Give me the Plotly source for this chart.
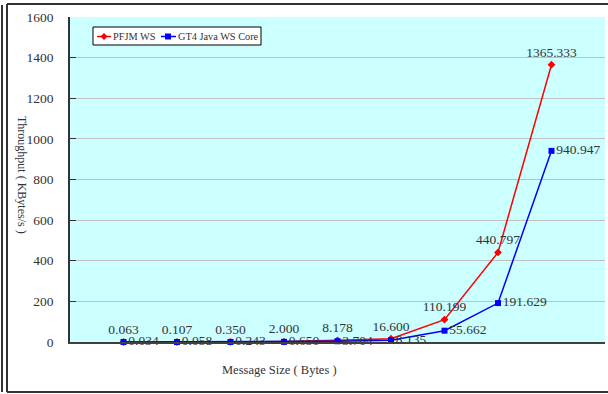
import plotly.graph_objects as go

# Message size steps (positions along the unlabeled x axis)
steps = [1, 2, 3, 4, 5, 6, 7, 8, 9]

# Throughput in KBytes/s
pfjm_ws = [0.063, 0.107, 0.350, 2.000, 8.178, 16.600, 110.199, 440.797, 1365.333]
gt4_core = [0.034, 0.058, 0.243, 0.650, 3.704, 8.135, 55.662, 191.629, 940.947]

series_names = ["PFJM WS", "GT4 Java WS Core"]
series_colors = ["#ff0000", "#0000ff"]

y_ticks = [0, 200, 400, 600, 800, 1000, 1200, 1400, 1600]

SERIF = "Liberation Serif, Times New Roman, serif"
TEXT = "#333333"

W, H = 608, 394
L, R, T, B = 70, 3, 17, 52
pw, ph = W - L - R, H - T - B


def px(x):
    return (x - L) / pw


def py(y):
    return (H - B - y) / ph


fig = go.Figure()

fig.add_trace(go.Scatter(
    x=steps, y=pfjm_ws, name=series_names[0], mode="lines+markers+text",
    line=dict(color=series_colors[0], width=1.5),
    marker=dict(symbol="diamond", size=6, color=series_colors[0]),
    text=[f"{v:.3f}" for v in pfjm_ws], textposition="top center",
    textfont=dict(family=SERIF, size=13.5, color=TEXT),
    cliponaxis=False,
))
fig.add_trace(go.Scatter(
    x=steps, y=gt4_core, name=series_names[1], mode="lines+markers+text",
    line=dict(color=series_colors[1], width=1.5),
    marker=dict(symbol="square", size=6, color=series_colors[1]),
    text=[f"{v:.3f}" for v in gt4_core], textposition="middle right",
    textfont=dict(family=SERIF, size=13.5, color=TEXT),
    cliponaxis=False,
))

# Outer frame of the figure
frame = dict(color="#333333", width=2)
shapes = [
    dict(type="line", xref="paper", yref="paper", x0=px(7), x1=px(610), y0=py(4), y1=py(4), line=frame),
    dict(type="line", xref="paper", yref="paper", x0=px(7), x1=px(7), y0=py(4), y1=py(392), line=frame),
    dict(type="line", xref="paper", yref="paper", x0=px(7), x1=px(610), y0=py(392), y1=py(392), line=frame),
    dict(type="line", xref="paper", yref="paper", x0=px(2), x1=px(2), y0=py(5), y1=py(392), line=frame),
]

# Compact boxed legend inside the plot area
annotations = []
shapes.append(dict(type="rect", xref="paper", yref="paper",
                   x0=px(93), x1=px(261), y0=py(27), y1=py(45),
                   fillcolor="white", line=dict(color="black", width=1), layer="above"))
legend_items = [
    (97, 111, 104, "diamond", 113),
    (161, 176, 168, "square", 178),
]
ly = 36.5
for (lx0, lx1, mx, sym, tx), name, col in zip(legend_items, series_names, series_colors):
    shapes.append(dict(type="line", xref="paper", yref="paper",
                       x0=px(lx0), x1=px(lx1), y0=py(ly), y1=py(ly),
                       line=dict(color=col, width=1.5), layer="above"))
    if sym == "square":
        shapes.append(dict(type="rect", xref="paper", yref="paper",
                           x0=px(mx - 3), x1=px(mx + 3), y0=py(ly - 3), y1=py(ly + 3),
                           fillcolor=col, line=dict(width=0), layer="above"))
    else:
        shapes.append(dict(type="path", xref="paper", yref="paper",
                           path=(f"M {px(mx - 3.5)} {py(ly)} L {px(mx)} {py(ly - 3.5)} "
                                 f"L {px(mx + 3.5)} {py(ly)} L {px(mx)} {py(ly + 3.5)} Z"),
                           fillcolor=col, line=dict(width=0), layer="above"))
    annotations.append(dict(text=name, xref="paper", yref="paper",
                            x=px(tx - 1), y=py(ly), xanchor="left", yanchor="middle",
                            showarrow=False, borderpad=0,
                            font=dict(family=SERIF, size=10.3, color=TEXT)))

annotations += [
    dict(text="Message Size ( Bytes )", xref="paper", yref="paper",
         x=px(279), y=py(379), showarrow=False,
         font=dict(family=SERIF, size=12.5, color=TEXT)),
    dict(text="Throughput ( KBytes/s )", xref="paper", yref="paper",
         x=px(13), y=py(175), showarrow=False, textangle=90,
         font=dict(family=SERIF, size=12, color=TEXT)),
]

fig.update_layout(
    width=W, height=H,
    margin=dict(l=L, r=R, t=T, b=B),
    paper_bgcolor="white",
    plot_bgcolor="#ccffff",
    font=dict(family=SERIF, color=TEXT),
    showlegend=False,
    xaxis=dict(
        range=[0, 10], showticklabels=False, ticks="", showgrid=False,
        zeroline=False, showline=True, linecolor="#404040", linewidth=2,
    ),
    yaxis=dict(
        range=[0, 1600], tickvals=y_ticks, ticks="inside", ticklen=6,
        tickcolor="#333333", tickwidth=1,
        showgrid=True, gridcolor="#c0c0c0", gridwidth=1,
        zeroline=False, showline=True, linecolor="#333333", linewidth=1.5,
        tickfont=dict(family=SERIF, size=13.5, color=TEXT),
        ticklabelstandoff=12,
    ),
    shapes=shapes,
    annotations=annotations,
)

fig.write_html("out.html")
